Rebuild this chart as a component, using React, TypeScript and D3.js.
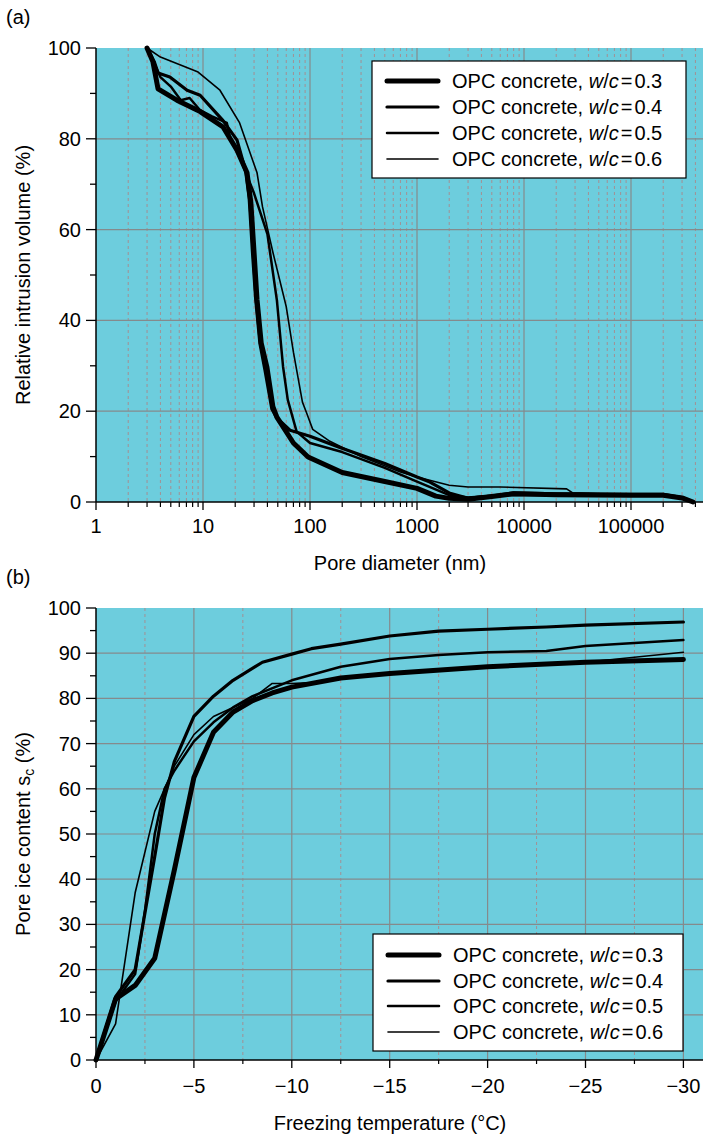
import React from 'react';
import * as d3 from 'd3';

// ---------- DATA ----------
const seriesLabels = ['0.3', '0.4', '0.5', '0.6'];
const seriesWidths = [5, 3.2, 2.5, 1.6];

// (a) pore diameter (nm) vs relative intrusion volume (%)
const intrusion03: [number, number][] = [
  [3, 100], [3.4, 97], [3.8, 91], [5.7, 88.5], [9.4, 86], [15.4, 82.6], [20.8, 77.5], [25.8, 72.5],
  [28, 66], [30, 55], [32, 44.5], [35, 35], [39.5, 29.8], [45, 21], [49, 18.7], [70, 13], [96, 9.9],
  [200, 6.5], [500, 4.5], [1000, 3], [1500, 1.3], [2000, 0.8], [3000, 0.6], [5000, 1.2], [8000, 1.8],
  [20000, 1.6], [100000, 1.5], [200000, 1.5], [300000, 0.9], [380000, 0]
];
const intrusion04: [number, number][] = [
  [3, 100], [3.5, 97], [3.8, 94.5], [4.9, 93.6], [7.1, 90.7], [9.4, 89.6], [15.4, 84], [20.8, 79.7],
  [25, 73], [27, 67], [29, 55], [31, 45], [34, 35], [38, 29], [44, 20.5], [49, 18.5], [65, 15.8],
  [100, 14.5], [190, 12], [500, 8.5], [1000, 5.5], [1320, 4.4], [2000, 2], [3000, 0.8], [5000, 1.3],
  [8000, 2], [20000, 1.8], [100000, 1.7], [200000, 1.7], [300000, 1], [380000, 0]
];
const intrusion05: [number, number][] = [
  [3, 100], [3.6, 96], [4, 93.6], [5, 91.5], [6.2, 88.5], [7.5, 89], [9.4, 86.3], [12, 85],
  [16.7, 83.5], [18, 80], [22, 76], [30, 68], [40, 59], [49, 44.5], [56, 29.8], [62, 22.5],
  [75, 15.5], [100, 13], [200, 11], [500, 7.5], [1000, 4.5], [2000, 1.5], [3000, 1], [6000, 1.5],
  [10000, 1.6], [100000, 1.5], [200000, 1.4], [300000, 0.9], [380000, 0]
];
const intrusion06: [number, number][] = [
  [3, 100], [4, 98], [9, 94.7], [14.4, 90.7], [22, 83.5], [32, 72.5], [36, 65], [45, 55], [60, 43],
  [70, 33], [85, 22], [93, 19.6], [106, 16], [150, 13.5], [300, 10], [700, 6.6], [1000, 5.5],
  [2000, 3.7], [3000, 3.3], [6000, 3.3], [25000, 2.9], [28500, 2], [50000, 1.8], [100000, 1.6],
  [200000, 1.6], [300000, 1], [380000, 0]
];
const intrusionSeries = [intrusion03, intrusion04, intrusion05, intrusion06];
const xTicksA = [1, 10, 100, 1000, 10000, 100000];
const yTicksA = [0, 20, 40, 60, 80, 100];
const yMinorA = [10, 30, 50, 70, 90];

// (b) freezing temperature (°C) vs pore ice content (%)
const ice03: [number, number][] = [
  [0, 0], [-1, 13.5], [-2, 16.5], [-3, 22.5], [-4, 42], [-5, 62.5], [-6, 72.5], [-7, 77], [-8, 79.5],
  [-9, 81.2], [-10, 82.5], [-12.5, 84.5], [-15, 85.5], [-20, 87], [-25, 88], [-30, 88.6]
];
const ice04: [number, number][] = [
  [0, 0], [-1, 14], [-2, 20], [-3, 45], [-3.5, 58], [-4, 66], [-5, 76], [-6, 80.5], [-7, 84],
  [-8.5, 88], [-10, 89.8], [-11, 91], [-12.5, 92], [-15, 93.8], [-17.5, 94.9], [-20, 95.3],
  [-23, 95.8], [-25, 96.2], [-30, 96.9]
];
const ice05: [number, number][] = [
  [0, 0], [-1, 13], [-2, 19], [-2.5, 33], [-3, 50], [-3.5, 60], [-4, 64], [-5, 70.5], [-6, 74.7],
  [-7, 78], [-8, 80.5], [-10, 84], [-12.5, 87], [-15, 88.7], [-17.5, 89.6], [-20, 90.2], [-23, 90.5],
  [-25, 91.6], [-30, 92.9]
];
const ice06: [number, number][] = [
  [0, 0], [-1, 8], [-2, 37], [-3, 55], [-4, 65], [-5, 72], [-6, 76], [-7, 78], [-8, 80], [-9, 83.3],
  [-10, 83.3], [-11, 83.5], [-12.5, 84.5], [-15, 85.5], [-20, 86.8], [-25, 88], [-30, 90.2]
];
const iceSeries = [ice03, ice04, ice05, ice06];
const xTicksB = [0, -5, -10, -15, -20, -25, -30];
const xMinorB = [-2.5, -7.5, -12.5, -17.5, -22.5, -27.5];
const yTicksB = [0, 10, 20, 30, 40, 50, 60, 70, 80, 90, 100];
const yMinorB = [5, 15, 25, 35, 45, 55, 65, 75, 85, 95];

// ---------- STYLE ----------
const BG = '#6dcddd';
const GRID = '#858a8c';
const DASH = '#a38f93';
const FONT = '"Liberation Sans", Arial, Helvetica, sans-serif';
const FS = 20;

const W = 703, H = 1137;
const L = 96, R = 703;

function Legend({ x, y, w, h, rowY }: { x: number; y: number; w: number; h: number; rowY: number[] }) {
  return (
    <g>
      <rect x={x} y={y} width={w} height={h} fill="#fff" stroke="#000" strokeWidth={1.2} />
      {seriesLabels.map((lab, i) => (
        <g key={lab}>
          <line x1={x + 15} x2={x + 66} y1={rowY[i]} y2={rowY[i]} stroke="#000" strokeWidth={seriesWidths[i]} strokeLinecap="round" />
          <text x={x + 80} y={rowY[i] + 7} fontSize={FS} fontFamily={FONT} fill="#000">
            OPC concrete, <tspan fontStyle="italic">w</tspan>/<tspan fontStyle="italic">c</tspan>
            <tspan dx={2}>=</tspan><tspan dx={2}>{lab}</tspan>
          </text>
        </g>
      ))}
    </g>
  );
}

function ChartA() {
  const top = 48, bottom = 502;
  const x = d3.scaleLog().domain([1, Math.pow(10, (R - L) / 107)]).range([L, R]);
  const y = d3.scaleLinear().domain([0, 100]).range([bottom, top]);
  const minor: number[] = [];
  for (let k = 0; k <= 5; k++) for (let m = 2; m <= 9; m++) {
    const v = m * Math.pow(10, k);
    if (v <= 400000) minor.push(v);
  }
  const line = d3.line<[number, number]>().x(d => x(d[0])).y(d => y(d[1]));
  return (
    <g>
      <rect x={L} y={top} width={R - L} height={bottom - top} fill={BG} />
      {minor.map(v => (
        <line key={'m' + v} x1={x(v)} x2={x(v)} y1={top} y2={bottom} stroke={DASH} strokeWidth={1} strokeDasharray="3,3" />
      ))}
      {xTicksA.slice(1).map(v => (
        <line key={'g' + v} x1={x(v)} x2={x(v)} y1={top} y2={bottom} stroke={GRID} strokeWidth={1.2} />
      ))}
      {yTicksA.slice(1, -1).map(v => (
        <line key={'h' + v} x1={L} x2={R} y1={y(v)} y2={y(v)} stroke={GRID} strokeWidth={1.2} />
      ))}
      {intrusionSeries.map((s, i) => (
        <path key={i} d={line(s) || ''} fill="none" stroke="#000" strokeWidth={seriesWidths[i]} strokeLinejoin="round" strokeLinecap="round" />
      ))}
      <line x1={L} x2={L} y1={top} y2={bottom} stroke="#000" strokeWidth={1.5} />
      <line x1={L} x2={R} y1={bottom} y2={bottom} stroke="#000" strokeWidth={1.5} />
      {yTicksA.map(v => (
        <g key={'yt' + v}>
          <line x1={L - 10} x2={L} y1={y(v)} y2={y(v)} stroke="#000" strokeWidth={1.3} />
          <text x={L - 15} y={y(v) + 7} textAnchor="end" fontSize={FS} fontFamily={FONT}>{v}</text>
        </g>
      ))}
      {yMinorA.map(v => (
        <line key={'ym' + v} x1={L - 6} x2={L} y1={y(v)} y2={y(v)} stroke="#000" strokeWidth={1.3} />
      ))}
      {xTicksA.map(v => (
        <g key={'xt' + v}>
          <line x1={x(v)} x2={x(v)} y1={bottom} y2={bottom + 8} stroke="#000" strokeWidth={1.3} />
          <text x={x(v)} y={bottom + 31} textAnchor="middle" fontSize={FS} fontFamily={FONT}>{v}</text>
        </g>
      ))}
      {minor.map(v => (
        <line key={'xm' + v} x1={x(v)} x2={x(v)} y1={bottom} y2={bottom + 5} stroke="#000" strokeWidth={1.2} />
      ))}
      <text x={400} y={570} textAnchor="middle" fontSize={FS} fontFamily={FONT}>Pore diameter (nm)</text>
      <text transform={`translate(30,${(top + bottom) / 2}) rotate(-90)`} textAnchor="middle" fontSize={FS} fontFamily={FONT}>Relative intrusion volume (%)</text>
      <text x={6} y={24} fontSize={FS} fontFamily={FONT}>(a)</text>
      <Legend x={372} y={61} w={314} h={117} rowY={[81, 107, 133, 159]} />
    </g>
  );
}

function ChartB() {
  const top = 608, bottom = 1060;
  const x = d3.scaleLinear().domain([0, -(R - L) / 19.58]).range([L, R]);
  const y = d3.scaleLinear().domain([0, 100]).range([bottom, top]);
  const line = d3.line<[number, number]>().x(d => x(d[0])).y(d => y(d[1]));
  const fmt = (v: number) => (v < 0 ? '\u2212' + Math.abs(v) : String(v));
  return (
    <g>
      <rect x={L} y={top} width={R - L} height={bottom - top} fill={BG} />
      {xMinorB.map(v => (
        <line key={'m' + v} x1={x(v)} x2={x(v)} y1={top} y2={bottom} stroke={DASH} strokeWidth={1} strokeDasharray="3,3" />
      ))}
      {xTicksB.slice(1).map(v => (
        <line key={'g' + v} x1={x(v)} x2={x(v)} y1={top} y2={bottom} stroke={GRID} strokeWidth={1.2} />
      ))}
      {yTicksB.slice(1, -1).map(v => (
        <line key={'h' + v} x1={L} x2={R} y1={y(v)} y2={y(v)} stroke={GRID} strokeWidth={1.2} />
      ))}
      {iceSeries.map((s, i) => (
        <path key={i} d={line(s) || ''} fill="none" stroke="#000" strokeWidth={seriesWidths[i]} strokeLinejoin="round" strokeLinecap="round" />
      ))}
      <line x1={L} x2={L} y1={top} y2={bottom} stroke="#000" strokeWidth={1.5} />
      <line x1={L} x2={R} y1={bottom} y2={bottom} stroke="#000" strokeWidth={1.5} />
      {yTicksB.map(v => (
        <g key={'yt' + v}>
          <line x1={L - 10} x2={L} y1={y(v)} y2={y(v)} stroke="#000" strokeWidth={1.3} />
          <text x={L - 15} y={y(v) + 7} textAnchor="end" fontSize={FS} fontFamily={FONT}>{v}</text>
        </g>
      ))}
      {yMinorB.map(v => (
        <line key={'ym' + v} x1={L - 6} x2={L} y1={y(v)} y2={y(v)} stroke="#000" strokeWidth={1.3} />
      ))}
      {xTicksB.map(v => (
        <g key={'xt' + v}>
          <line x1={x(v)} x2={x(v)} y1={bottom} y2={bottom + 8} stroke="#000" strokeWidth={1.3} />
          <text x={x(v)} y={bottom + 33} textAnchor="middle" fontSize={FS} fontFamily={FONT}>{fmt(v)}</text>
        </g>
      ))}
      {xMinorB.map(v => (
        <line key={'xm' + v} x1={x(v)} x2={x(v)} y1={bottom} y2={bottom + 4} stroke="#000" strokeWidth={1.2} />
      ))}
      <text x={390} y={1130} textAnchor="middle" fontSize={FS} fontFamily={FONT}>Freezing temperature (°C)</text>
      <text transform={`translate(30,${(top + bottom) / 2}) rotate(-90)`} textAnchor="middle" fontSize={FS} fontFamily={FONT}>
        Pore ice content s<tspan fontSize={14} dy={4}>c</tspan><tspan dy={-4}> (%)</tspan>
      </text>
      <text x={6} y={584} fontSize={FS} fontFamily={FONT}>(b)</text>
      <Legend x={373} y={934} w={310} h={117} rowY={[955, 981, 1006, 1032]} />
    </g>
  );
}

export default function App() {
  return (
    <svg width={W} height={H} style={{ position: 'absolute', left: 0, top: 0, background: '#fff' }}>
      <ChartA />
      <ChartB />
    </svg>
  );
}
